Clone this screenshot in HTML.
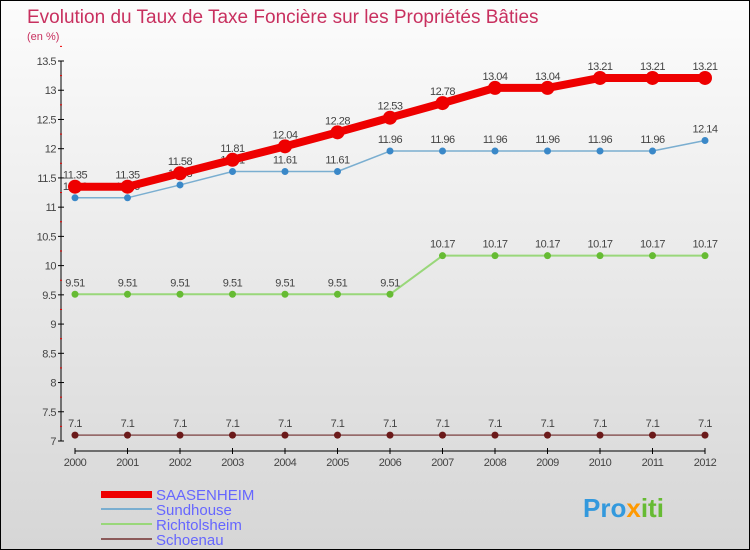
<!DOCTYPE html>
<html><head><meta charset="utf-8"><style>
body{margin:0}
#c{width:748px;height:548px;border:1px solid #000;background:linear-gradient(#fcfcfc,#d6d6d6);position:relative;font-family:"Liberation Sans",sans-serif;overflow:hidden}
text{font-family:"Liberation Sans",sans-serif}
</style></head><body>
<div id="c">
<svg id="s" width="748" height="548">
<text x="26" y="22" font-size="19" fill="#c8305f">Evolution du Taux de Taxe Foncière sur les Propriétés Bâties</text>
<text x="26" y="39" font-size="11" fill="#c8305f">(en %)</text>
<g id="axes"></g><g id="series"></g>
<g>
<rect x="100" y="490" width="51" height="7" fill="#e00"/>
<text x="155" y="499" font-size="15" fill="#6666ff">SAASENHEIM</text>
<rect x="100" y="507" width="51" height="2" fill="#7aaed0"/>
<text x="155" y="514" font-size="15" fill="#6666ff">Sundhouse</text>
<rect x="100" y="522" width="51" height="2" fill="#99d77a"/>
<text x="155" y="529" font-size="15" fill="#6666ff">Richtolsheim</text>
<rect x="100" y="537" width="51" height="2" fill="#8b5a5a"/>
<text x="155" y="544" font-size="15" fill="#6666ff">Schoenau</text>
</g>
<text x="582" y="516" font-size="26" font-weight="bold" fill="#3399dd">Pro<tspan fill="#ff9900">x</tspan><tspan fill="#66bb33">iti</tspan></text>
</svg></div>
<script>
const years=["2000","2001","2002","2003","2004","2005","2006","2007","2008","2009","2010","2011","2012"];
const saasenheim=[11.35,11.35,11.58,11.81,12.04,12.28,12.53,12.78,13.04,13.04,13.21,13.21,13.21];
const sundhouse=[11.16,11.16,11.38,11.61,11.61,11.61,11.96,11.96,11.96,11.96,11.96,11.96,12.14];
const richtolsheim=[9.51,9.51,9.51,9.51,9.51,9.51,9.51,10.17,10.17,10.17,10.17,10.17,10.17];
const schoenau=[7.1,7.1,7.1,7.1,7.1,7.1,7.1,7.1,7.1,7.1,7.1,7.1,7.1];
const yTicks=["7","7.5","8","8.5","9","9.5","10","10.5","11","11.5","12","12.5","13","13.5"];
const NS="http://www.w3.org/2000/svg";
const X=i=>74+i*52.5;
const Y=v=>440-(v-7)*(380/6.5);
function mk(t,a,p){const e=document.createElementNS(NS,t);for(const k in a)e.setAttribute(k,a[k]);p.appendChild(e);return e;}
const ax=document.getElementById('axes');
let l=mk('line',{x1:60,y1:Y(13.5),x2:60,y2:Y(7),stroke:'#000'},ax);


yTicks.forEach(t=>{const y=Y(+t);
 mk('line',{x1:57,y1:y,x2:63,y2:y,stroke:'#000'},ax);
 mk('line',{x1:59,y1:Y(+t+0.25),x2:61,y2:Y(+t+0.25),stroke:'#e00'},ax);
 const tx=mk('text',{x:55,y:y+4,'font-size':11,fill:'#444','text-anchor':'end','letter-spacing':'-0.5'},ax);tx.textContent=t;
 
 });
l=mk('line',{x1:X(0),y1:450,x2:X(12),y2:450,stroke:'#000'},ax);


years.forEach((yr,i)=>{mk('line',{x1:X(i),y1:447,x2:X(i),y2:453,stroke:'#000'},ax);
 const tx=mk('text',{x:X(i),y:465,'font-size':11,fill:'#444','text-anchor':'middle','letter-spacing':'-0.5'},ax);tx.textContent=yr;
 
 });
const sg=document.getElementById('series');
function draw(name,vals,color,w,r,dot){
 const g=mk('g',{},sg);
 
 
 const pl=mk('polyline',{points:vals.map((v,i)=>X(i)+','+Y(v)).join(' '),fill:'none',stroke:color,'stroke-width':w,'stroke-linejoin':'round'},g);
 
 
 vals.forEach((v,i)=>{const c=mk('circle',{cx:X(i),cy:Y(v),r:r,fill:dot},g);
  
  
  const t=mk('text',{x:X(i),y:Y(v)-8,'font-size':11,fill:'#444','text-anchor':'middle','letter-spacing':'-0.5'},g);t.textContent=v;
  
  });
}
draw('schoenau',schoenau,'#8b5a5a',1.5,3.5,'#6b1a1a');
draw('richtolsheim',richtolsheim,'#99d77a',2,3.5,'#66bb33');
draw('sundhouse',sundhouse,'#7aaed0',1.5,3.5,'#3a88c8');
draw('saasenheim',saasenheim,'#e00',8,7,'#e00');
</script></body></html>
